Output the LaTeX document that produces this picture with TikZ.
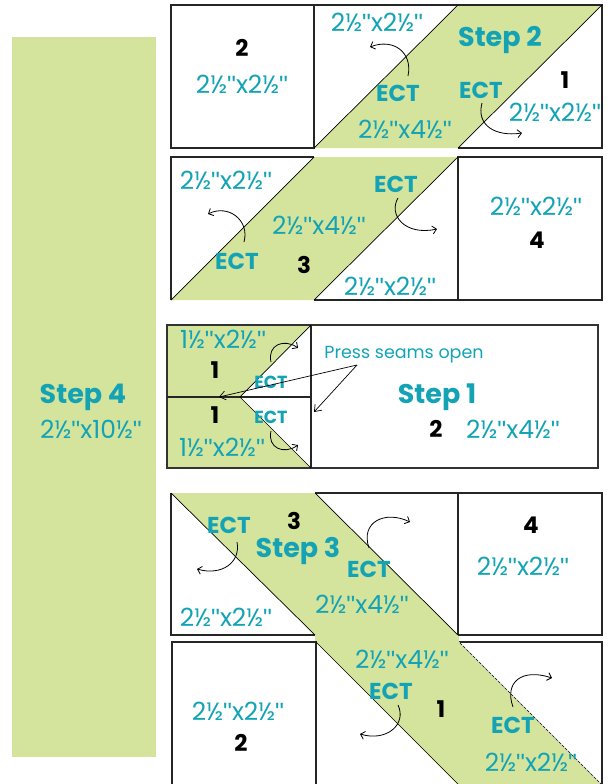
\documentclass[tikz,border=0pt]{standalone}
\usepackage{fontspec}
\setmainfont{Poppins}
\newfontfamily\quotefont{Liberation Sans}
\newcommand{\inch}{{\quotefont"}}
\usetikzlibrary{arrows.meta}
\definecolor{qgreen}{HTML}{D5E49D}
\definecolor{qcyan}{HTML}{13A3B5}
\begin{document}
\begin{tikzpicture}[x=1pt,y=-1pt,
  dimtxt/.style={text=qcyan,font=\fontsize{25}{27}\selectfont,inner sep=0pt},
  ecttxt/.style={text=qcyan,font=\bfseries\fontsize{23}{25}\selectfont,inner sep=0pt},
  smallect/.style={text=qcyan,font=\bfseries\fontsize{17.5}{19}\selectfont,inner sep=0pt},
  numtxt/.style={text=black,font=\bfseries\fontsize{23}{25}\selectfont,inner sep=0pt},
  steptxt/.style={text=qcyan,font=\bfseries\fontsize{27}{30}\selectfont,inner sep=0pt},
  presstxt/.style={text=qcyan,font=\fontsize{17.5}{19}\selectfont,inner sep=0pt},
  border/.style={draw=black!85,line width=1.2pt},
  diag/.style={draw=black,line width=0.7pt},
  turn/.style={draw=black,line width=0.8pt,-{Straight Barb[length=4pt,width=8pt]}},
  pointer/.style={draw=black,line width=0.7pt,-{Straight Barb[length=6pt,width=9pt]}}]
\useasboundingbox (0,0) rectangle (611,784);

% ---------- green fills ----------
\fill[qgreen] (12,37) rectangle (156,757);
\fill[qgreen] (314,148) -- (458,5) -- (602,5) -- (458,148) -- cycle;
\fill[qgreen] (171,300) -- (314,157) -- (458,157) -- (314,300) -- cycle;
\fill[qgreen] (167,325) -- (311,325) -- (240,397) -- (311,468) -- (167,468) -- cycle;
\fill[qgreen] (171,493) -- (315,493) -- (458,635) -- (315,635) -- cycle;
\fill[qgreen] (315,635) rectangle (459,642);
\fill[qgreen] (316,642) -- (459,642) -- (611,794) -- (467,794) -- cycle;
\fill[white] (602,642) rectangle (611,784);

% ---------- row 1 ----------
\draw[border] (171,5) rectangle (314,148);
\draw[border] (314,5) -- (602,5) -- (602,148) -- (458,148);
\draw[diag] (314,148) -- (458,5);
\draw[diag] (458,148) -- (602,5);

% ---------- row 2 ----------
\draw[border] (314,157) -- (171,157) -- (171,300);
\draw[border] (314,300) -- (602,300) -- (602,157) -- (458,157) -- (458,300);
\draw[diag] (171,300) -- (314,157);
\draw[diag] (314,300) -- (458,157);

% ---------- row 3 ----------
\draw[border,draw=black!80] (167,325) rectangle (598,468);
\draw[border] (311,325) -- (311,468);
\draw[border] (167,397) -- (311,397);
\draw[diag] (311,325) -- (240,397) -- (311,468);

% ---------- row 4 ----------
\draw[border] (171,493) -- (171,635) -- (315,635);
\draw[border] (315,493) -- (602,493) -- (602,635) -- (458,635);
\draw[border] (458,493) -- (458,635);
\draw[diag] (171,493) -- (315,635);
\draw[diag] (315,493) -- (458,635);

% ---------- row 5 ----------
\draw[border] (172,790) -- (172,642) -- (316,642) -- (316,790);
\draw[border] (459,642) -- (602,642) -- (602,790);
\draw[diag] (316,642) -- (464,790);
\draw[diag] (459,642) -- (602,785);
\draw[draw=white,line width=0.5pt,dash pattern=on 1.5pt off 3pt] (459,642) -- (602,785);

% ---------- left panel texts ----------
\node[steptxt] (s4) at (83,397) {Step 4};
\node[dimtxt] (d4) at (91,429) {2½\inch x10½\inch};

% ---------- row 1 texts ----------
\node[numtxt] (r1n2) at (242,48) {2};
\node[dimtxt] (r1d1) at (242,84) {2½\inch x2½\inch};
\node[dimtxt] (r1d2) at (377,22) {2½\inch x2½\inch};
\node[ecttxt] (r1e1) at (398,93) {ECT};
\node[dimtxt] (r1d3) at (405,129) {2½\inch x4½\inch};
\node[steptxt] (s2) at (500,40) {Step 2};
\node[ecttxt] (r1e2) at (481,90) {ECT};
\node[numtxt] (r1n1) at (565,80) {1};
\node[dimtxt] (r1d4) at (555,112) {2½\inch x2½\inch};

% ---------- row 2 texts ----------
\node[dimtxt] (r2d1) at (226,180) {2½\inch x2½\inch};
\node[ecttxt] (r2e1) at (237,261) {ECT};
\node[numtxt] (r2n3) at (304,265) {3};
\node[dimtxt] (r2d2) at (319,225) {2½\inch x4½\inch};
\node[ecttxt] (r2e2) at (396,184) {ECT};
\node[dimtxt] (r2d3) at (390,286) {2½\inch x2½\inch};
\node[dimtxt] (r2d4) at (536,206) {2½\inch x2½\inch};
\node[numtxt] (r2n4) at (537,240) {4};

% ---------- row 3 texts ----------
\node[dimtxt] (r3d1) at (223,339) {1½\inch x2½\inch};
\node[numtxt] (r3n1) at (215,370) {1};
\node[smallect] (r3e1) at (271,382) {ECT};
\node[numtxt] (r3n2) at (215,415) {1};
\node[smallect] (r3e2) at (271,417) {ECT};
\node[dimtxt] (r3d2) at (222,447) {1½\inch x2½\inch};
\node[presstxt] (press) at (404,355) {Press seams open};
\node[steptxt] (s1) at (437,397) {Step 1};
\node[numtxt] (r3n3) at (436,429) {2};
\node[dimtxt] (r3d3) at (513,429) {2½\inch x4½\inch};

% ---------- row 4 texts ----------
\node[ecttxt] (r4e1) at (229,525) {ECT};
\node[numtxt] (r4n3) at (294,521) {3};
\node[steptxt] (s3) at (298,551) {Step 3};
\node[dimtxt] (r4d1) at (226,617) {2½\inch x2½\inch};
\node[ecttxt] (r4e2) at (369,569) {ECT};
\node[dimtxt] (r4d2) at (362,604) {2½\inch x4½\inch};
\node[numtxt] (r4n4) at (531,525) {4};
\node[dimtxt] (r4d3) at (523,566) {2½\inch x2½\inch};

% ---------- row 5 texts ----------
\node[dimtxt] (r5d1) at (238,711) {2½\inch x2½\inch};
\node[numtxt] (r5n2) at (241,743) {2};
\node[dimtxt] (r5d2) at (402,659) {2½\inch x4½\inch};
\node[ecttxt] (r5e1) at (391,691) {ECT};
\node[numtxt] (r5n1) at (441,709) {1};
\node[ecttxt] (r5e2) at (513,725) {ECT};
\node[dimtxt] (r5d3) at (531,762) {2½\inch x2½\inch};

% ---------- turn arrows ----------
\coordinate (a1s) at (408,76);  \coordinate (a1e) at (370,47);
\coordinate (a2s) at (482,103); \coordinate (a2e) at (522,133);
\coordinate (a3s) at (244,242); \coordinate (a3e) at (208,214);
\coordinate (a4s) at (398,198); \coordinate (a4e) at (437,229);
\coordinate (a5s) at (237,542); \coordinate (a5e) at (197,569);
\coordinate (a6s) at (369,548); \coordinate (a6e) at (410,522);
\coordinate (a7s) at (398,705); \coordinate (a7e) at (360,734);
\coordinate (a8s) at (513,707); \coordinate (a8e) at (552,678);
\coordinate (a9s) at (271,362); \coordinate (a9e) at (298,348);
\coordinate (a10s) at (271,431); \coordinate (a10e) at (298,445);

\draw[turn] (a1s) .. controls (413,52) and (393,38) .. (a1e);
\draw[turn] (a2s) .. controls (476,125) and (495,137) .. (a2e);
\draw[turn] (a3s) .. controls (250,220) and (228,204) .. (a3e);
\draw[turn] (a4s) .. controls (388,215) and (405,236) .. (a4e);
\draw[turn] (a5s) .. controls (241,563) and (221,576) .. (a5e);
\draw[turn] (a6s) .. controls (360,522) and (385,510) .. (a6e);
\draw[turn] (a7s) .. controls (407,724) and (387,742) .. (a7e);
\draw[turn] (a8s) .. controls (504,682) and (522,668) .. (a8e);
\draw[turn] (a9s) .. controls (267,345) and (284,338) .. (a9e);
\draw[turn] (a10s) .. controls (267,448) and (284,455) .. (a10e);

% ---------- press seams pointers ----------
\coordinate (pp) at (357,365);
\coordinate (pt1) at (219,397);
\coordinate (pt2) at (314,412);
\draw[pointer] (pp) -- (pt1);
\draw[pointer] (pp) -- (pt2);
\end{tikzpicture}
\end{document}
